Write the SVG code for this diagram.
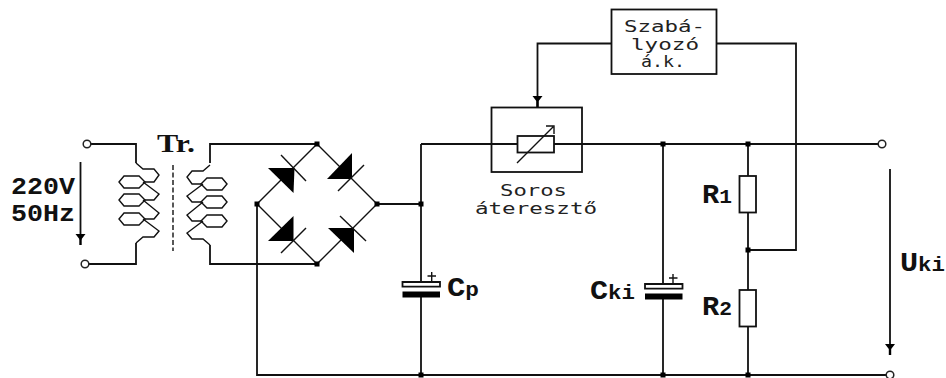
<svg xmlns="http://www.w3.org/2000/svg" xmlns:xlink="http://www.w3.org/1999/xlink" width="946" height="378" viewBox="0 0 946 378">
<style>
.w{fill:none;stroke:#111;stroke-width:1.8}
.t{fill:none;stroke:#111;stroke-width:1.4}
.b{fill:#fff;stroke:#111;stroke-width:1.8}
.k{fill:#000;stroke:none}
.term{fill:#fff;stroke:#222;stroke-width:1.5}
.m{font-family:"DejaVu Sans Mono",monospace;font-size:15px;fill:#222}
.h{font-family:"Liberation Mono",monospace;font-weight:bold;fill:#111;font-size:27px}
.v{font-size:23.500px}
.sm{font-size:20px}
.s{font-family:"Liberation Serif",serif;font-weight:bold;fill:#111}
</style>
<defs>
<rect id="n" class="k" x="-2.5" y="-2.5" width="5" height="5"/>
<path id="ah" class="k" d="M-5 0H5L1.200 5V11H-1.200V5Z"/>
<g id="coil" class="t">
<path d="M0 0L7 6H18L23 12L18 19H9"/>
<path d="M7 19L23 31L18 37H9M7 37L23 50L18 56H9M7 56L23 68L18 74H7L0 80"/>
<path d="M-17 19L-12 13H3L9 19L3 25H-12Z"/>
<path d="M-17 37L-12 31H3L9 37L3 43H-12Z"/>
<path d="M-17 56L-12 50H3L9 56L3 62H-12Z"/>
</g>
<path id="plate" d="M0 0H37.500V4.700H0Z" class="b"/>
</defs>
<g id="connectors">
<path class="w" d="M91 144H136V163M136 243V264H89"/>
<path class="w" d="M210 163V144H317M210 245V264H317"/>
<path class="t" d="M317 144L377 204L317 264L257 204Z"/>
<path class="w" d="M377 204H421M421 144V282M421 297V375"/>
<path class="w" d="M257 204V375H886"/>
<path class="w" d="M421 144H878"/>
<path class="w" d="M663 144V284M663 299V375"/>
<path class="w" d="M748 144V176M748 213V290M748 327V375"/>
<path class="w" d="M748 250H796V43.500H716"/>
<path class="w" d="M611 43.500H537.500V107"/>
<path class="w" d="M80.500 162V240M890 169V350"/>
<use xlink:href="#ah" x="537.500" y="96"/>
<use xlink:href="#ah" x="80.500" y="234"/>
<use xlink:href="#ah" x="890" y="344"/>
</g>
<g id="n-dots">
<use xlink:href="#n" x="317" y="144"/><use xlink:href="#n" x="257" y="204"/><use xlink:href="#n" x="377" y="204"/><use xlink:href="#n" x="317" y="264"/>
<use xlink:href="#n" x="421" y="204"/><use xlink:href="#n" x="421" y="375"/><use xlink:href="#n" x="663" y="144"/><use xlink:href="#n" x="663" y="375"/>
<use xlink:href="#n" x="748" y="144"/><use xlink:href="#n" x="748" y="250"/><use xlink:href="#n" x="748" y="375"/>
</g>
<g id="terminals">
<circle class="term" cx="87" cy="144" r="3.800"/><circle class="term" cx="85" cy="264" r="3.800"/>
<circle class="term" cx="882" cy="144" r="3.800"/><circle class="term" cx="890" cy="375" r="3.800"/>
</g>
<g id="transformer">
<use xlink:href="#coil" transform="translate(136 163)"/>
<use xlink:href="#coil" transform="translate(210 165) scale(-1 1)"/>
<path class="t" d="M173 165V251" stroke-dasharray="5 2.500"/>
<text class="s" x="157" y="152" font-size="26" textLength="38" lengthAdjust="spacingAndGlyphs">Tr.</text>
</g>
<g id="source-label">
<text class="h v" x="11" y="194" textLength="64" lengthAdjust="spacingAndGlyphs">220V</text>
<text class="h v" x="11" y="221" textLength="64" lengthAdjust="spacingAndGlyphs">50Hz</text>
</g>
<g id="bridge">
<path class="k" d="M268 168H294.500L293.500 193Z"/><path class="t" d="M281 155L306 181"/>
<path class="k" d="M352 153V179H327Z"/><path class="t" d="M338 191L364 165"/>
<path class="k" d="M293.500 216V241H268Z"/><path class="t" d="M281 253L306 228"/>
<path class="k" d="M328 228H354V253Z"/><path class="t" d="M340 216L366 241"/>
</g>
<g id="regulator">
<rect class="b" x="611.500" y="9.500" width="105" height="64.500"/>
<text class="m" x="624" y="32" textLength="81" lengthAdjust="spacingAndGlyphs">Szabá-</text>
<text class="m" x="631" y="49.500" textLength="68" lengthAdjust="spacingAndGlyphs">lyozó</text>
<text class="m" x="641" y="67" textLength="44" lengthAdjust="spacingAndGlyphs">á.k.</text>
</g>
<g id="series-pass">
<rect class="b" fill-opacity="0" x="491.500" y="107.500" width="90.500" height="64.500"/>
<rect class="b" x="517.500" y="136" width="36.500" height="16.500"/>
<path class="t" d="M517 163L553 127M546 126H554V134"/>
<text class="m" x="500" y="196" textLength="67" lengthAdjust="spacingAndGlyphs">Soros</text>
<text class="m" x="475" y="214" textLength="122" lengthAdjust="spacingAndGlyphs">áteresztő</text>
</g>
<g id="cp">
<use xlink:href="#plate" x="402.500" y="282"/>
<rect class="k" x="402.500" y="291.500" width="37.500" height="6"/>
<path class="t" d="M427.500 276H436M431.700 272V281"/>
<text class="h" x="447" y="296" textLength="32" lengthAdjust="spacingAndGlyphs">C<tspan class="sm">p</tspan></text>
</g>
<g id="cki">
<use xlink:href="#plate" x="645" y="284"/>
<rect class="k" x="645" y="293.500" width="37.500" height="6"/>
<path class="t" d="M669 278H677.500M673 274V283"/>
<text class="h" x="590" y="299" textLength="45" lengthAdjust="spacingAndGlyphs">C<tspan class="sm">ki</tspan></text>
</g>
<g id="r1">
<rect class="b" x="739.500" y="176" width="16.500" height="36.500"/>
<text class="h" x="702" y="203" textLength="30" lengthAdjust="spacingAndGlyphs">R<tspan class="sm">1</tspan></text>
</g>
<g id="r2">
<rect class="b" x="739.500" y="290" width="16.500" height="36.500"/>
<text class="h" x="702" y="315" textLength="30" lengthAdjust="spacingAndGlyphs">R<tspan class="sm">2</tspan></text>
</g>
<g id="output-label">
<text class="h" x="900" y="271" textLength="45" lengthAdjust="spacingAndGlyphs">U<tspan class="sm">ki</tspan></text>
</g>
</svg>
